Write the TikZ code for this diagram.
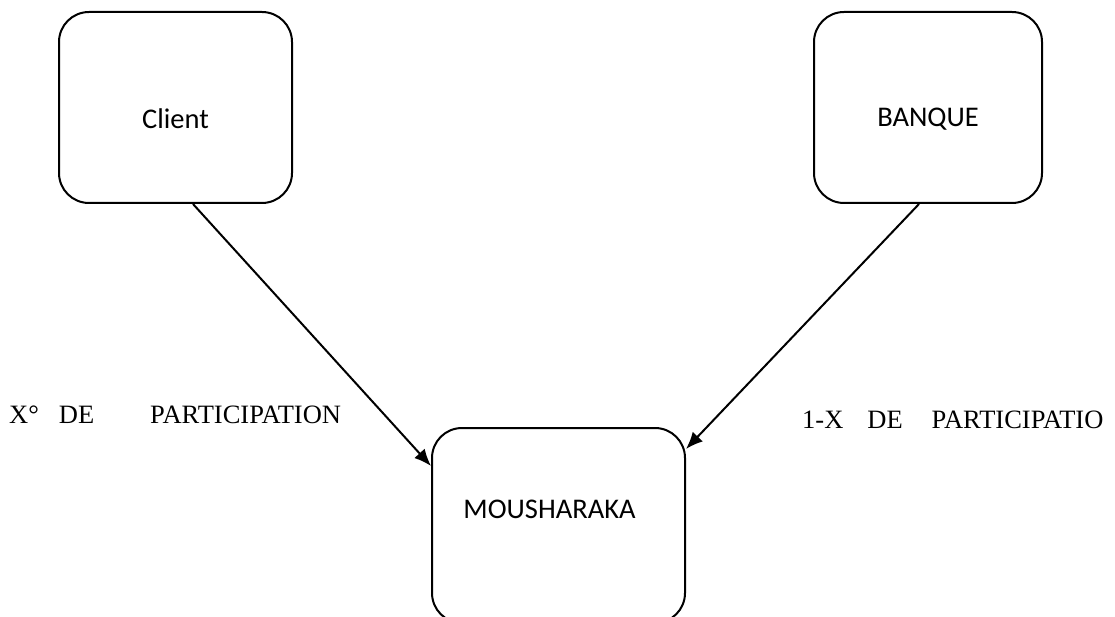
\documentclass[tikz,border=0pt]{standalone}
\usepackage{fontspec}
\setmainfont{Carlito}
\newfontfamily\tnr{Liberation Serif}
\usetikzlibrary{arrows.meta}

\tikzset{
  box/.style={draw, line width=2pt, rounded corners=30pt, inner sep=0pt},
  boxtext/.style={font=\fontsize{28.5}{32}\selectfont, inner sep=0pt},
  share/.style={font=\tnr\fontsize{26.5}{30}\selectfont, inner sep=0pt, anchor=base west},
  flow/.style={line width=2pt, -{Latex[length=17pt,width=14pt]}}
}

\begin{document}
\begin{tikzpicture}[x=1pt, y=-1pt]
  \useasboundingbox (0,0) rectangle (1115,617);
  \clip (0,0) rectangle (1115,617);

  % partners
  \node[box, minimum width=233pt, minimum height=191pt] (client) at (175.5,107.5) {};
  \node[boxtext] (clienttxt) at (175.5,119) {Client};

  \node[box, minimum width=228pt, minimum height=191pt] (banque) at (928,107.5) {};
  \node[boxtext] (banquetxt) at (928,119) {BANQUE};

  % joint venture
  \node[box, minimum width=253pt, minimum height=195pt] (moush) at (558.5,525.5) {};
  \node[boxtext] (moushtxt) at (549.5,509) {MOUSHARAKA};

  % contributions
  \draw[flow] ([xshift=135pt]client.south west) -- ([yshift=-39pt]moush.north west);
  \draw[flow] ([xshift=106pt]banque.south west) -- ([yshift=-22pt]moush.north east);

  % shares of participation
  \node[share] (partclient) at (9,423) {X°\hspace{20pt}DE\hspace{56pt}PARTICIPATION};
  \node[share] (partbanque) at (802,428) {1-X\hspace{24pt}DE\hspace{29pt}PARTICIPATIO};
\end{tikzpicture}
\end{document}
